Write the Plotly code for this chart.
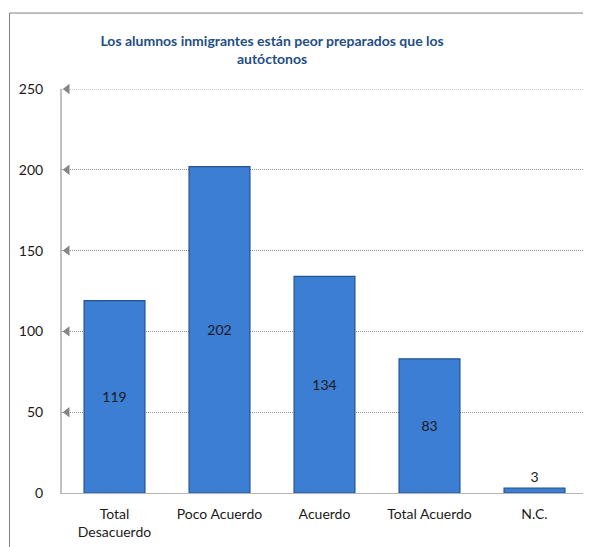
import plotly.graph_objects as go

# --- data ---
categories = ["Total<br>Desacuerdo", "Poco Acuerdo", "Acuerdo", "Total Acuerdo", "N.C."]
counts = [119, 202, 134, 83, 3]
y_ticks = [0, 50, 100, 150, 200, 250]

TITLE = "Los alumnos inmigrantes están peor preparados que los<br>autóctonos"

BAR = "#3c7ed4"
BAR_EDGE = "#24548e"
TITLE_INK = "#1f4e86"
INK = "#1a1a1a"
AXIS = "#c0c0c0"
GRID = "#8f8f8f"
FONT = "Lato, 'Open Sans', sans-serif"

xs = list(range(len(categories)))

fig = go.Figure()
fig.add_trace(go.Bar(
    x=xs, y=counts, width=0.58,
    marker=dict(color=BAR, line=dict(color=BAR_EDGE, width=1.2)),
    text=[str(v) for v in counts],
    textposition=["inside"] * 4 + ["outside"],
    insidetextanchor="middle",
    textfont=dict(color=INK, size=14, family=FONT),
    cliponaxis=False,
    hoverinfo="skip",
))
# little arrowheads on the gridlines, like the original
fig.add_trace(go.Scatter(
    x=[-0.45] * (len(y_ticks) - 1), y=y_ticks[1:], mode="markers",
    marker=dict(symbol="triangle-left", size=9, color="#858585"),
    hoverinfo="skip", cliponaxis=False,
))
# plotly drops the gridline at the range edge, draw the top one by hand
fig.add_hline(y=y_ticks[-1], line=dict(color=GRID, width=1, dash="1px,1px"),
              layer="below")

# the page body keeps its default 8px margin, so the figure is 8px smaller
fig.update_layout(
    width=583, height=539,
    paper_bgcolor="white", plot_bgcolor="white",
    margin=dict(l=54, r=4, t=81, b=54),
    showlegend=False,
    font=dict(family=FONT, color=INK, size=14),
    title=dict(text=TITLE, x=0.453, xanchor="center", y=0.929, yanchor="middle",
               font=dict(size=14, color=TITLE_INK, family=FONT, weight="bold")),
    xaxis=dict(range=[-0.5, 4.5], tickvals=xs, ticktext=categories,
               showgrid=False, zeroline=False, showline=True,
               linecolor="#b5b5b5", linewidth=1, ticks="",
               ticklabelstandoff=8,
               tickfont=dict(size=14, color=INK)),
    yaxis=dict(range=[0, 250], tickvals=y_ticks, showgrid=True,
               gridcolor=GRID, griddash="1px,1px", gridwidth=1,
               zeroline=False, showline=True, linecolor=AXIS, linewidth=2,
               ticks="", ticklabelstandoff=14,
               tickfont=dict(size=14, color=INK)),
)
fig.add_shape(type="rect", xref="paper", yref="paper",
              x0=-0.1, x1=1.2, y0=-0.3, y1=1.188,
              line=dict(color="#7f7f7f", width=1), layer="below")

fig.write_html("out.html")
